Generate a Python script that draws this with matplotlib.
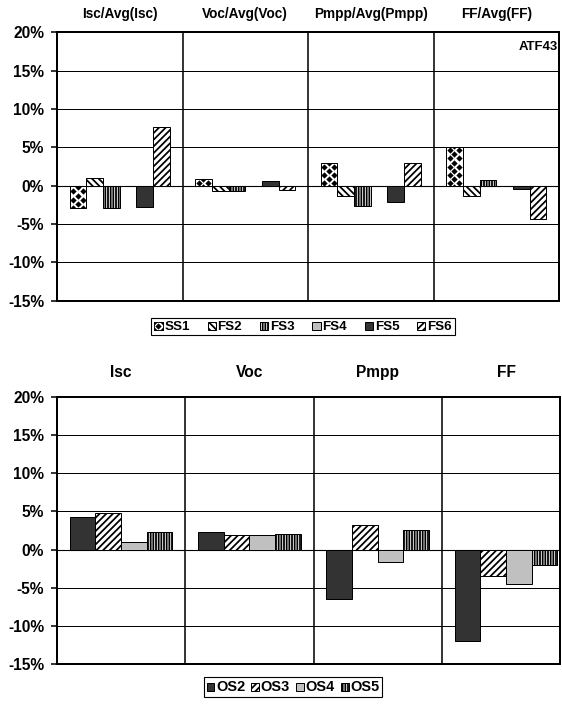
import numpy as np
import matplotlib
matplotlib.use("Agg")
import matplotlib.pyplot as plt
from matplotlib.patches import Rectangle
from matplotlib.lines import Line2D
from matplotlib.legend_handler import HandlerBase
from matplotlib.transforms import blended_transform_factory

plt.rcParams['font.family'] = ['Liberation Sans', 'DejaVu Sans']
plt.rcParams['font.weight'] = 'bold'
plt.rcParams['hatch.linewidth'] = 1.6

# ---- data (percent deviation) ----
top_categories = ['Isc/Avg(Isc)', 'Voc/Avg(Voc)', 'Pmpp/Avg(Pmpp)', 'FF/Avg(FF)']
top_series = ['SS1', 'FS2', 'FS3', 'FS4', 'FS5', 'FS6']
ss1 = [-2.95, 0.9, 3.0, 5.1]
fs2 = [1.0, -0.7, -1.35, -1.35]
fs3 = [-2.9, -0.7, -2.65, 0.75]
fs4 = [0.0, 0.0, 0.0, 0.0]
fs5 = [-2.8, 0.65, -2.15, -0.4]
fs6 = [7.65, -0.55, 2.9, -4.4]

bottom_categories = ['Isc', 'Voc', 'Pmpp', 'FF']
bottom_series = ['OS2', 'OS3', 'OS4', 'OS5']
os2 = [4.25, 2.25, -6.4, -12.0]
os3 = [4.75, 1.85, 3.2, -3.4]
os4 = [1.05, 1.95, -1.65, -4.5]
os5 = [2.25, 2.1, 2.5, -2.0]

y_ticks = [-15, -10, -5, 0, 5, 10, 15, 20]

# ---- styles ----
DARK = '#333333'
LIGHT = '#c0c0c0'
top_styles = {
    'SS1': dict(facecolor='white', hatch=None),
    'FS2': dict(facecolor='white', hatch='\\\\\\\\'),
    'FS3': dict(facecolor='white', hatch='|||||'),
    'FS4': dict(facecolor=LIGHT, hatch=None),
    'FS5': dict(facecolor=DARK, hatch=None),
    'FS6': dict(facecolor='white', hatch='////'),
}
bottom_styles = {
    'OS2': dict(facecolor=DARK, hatch=None),
    'OS3': dict(facecolor='white', hatch='////'),
    'OS4': dict(facecolor=LIGHT, hatch=None),
    'OS5': dict(facecolor='white', hatch='|||||'),
}

DPI = 80
fig = plt.figure(figsize=(562 / DPI, 708 / DPI), dpi=DPI)
ax_top = fig.add_axes([57 / 562, 1 - 300.7 / 708, 502 / 562, 268.4 / 708])
ax_bot = fig.add_axes([57 / 562, 1 - 664.3 / 708, 503 / 562, 267.6 / 708])


def style_axes(ax, xmax):
    ax.set_xlim(-0.5, xmax)
    ax.set_ylim(-15, 20)
    ax.set_yticks(y_ticks)
    ax.set_yticklabels([f'{t}%' for t in y_ticks])
    ax.set_xticks([])
    ax.tick_params(axis='y', direction='out', length=5.5, width=1.4, pad=6,
                   labelsize=14, colors='black')
    for t in ax.get_yticklabels():
        t.set_fontweight('bold')
    for s in ax.spines.values():
        s.set_linewidth(1.8)
        s.set_color('black')
    for y in y_ticks[1:-1]:
        ax.axhline(y, color='black', lw=0.9 if y else 1.0, zorder=1)
    for xv in (0.5, 1.5, 2.5):
        ax.axvline(xv, color='black', lw=1.4, zorder=4)


def diamond_fill(ax, patch, step_y=1.08):
    """Dot a bar with a quincunx lattice of black diamonds, clipped to the bar."""
    x0 = patch.get_x()
    w = patch.get_width()
    h = patch.get_height()
    lo, hi = min(0, h), max(0, h)
    xs, ys = [], []
    k = np.arange(-20, 21)
    for yy in 0.32 + k * step_y:
        if lo - 1 < yy < hi + 1:
            xs += [x0 + 0.22 * w, x0 + 0.78 * w]
            ys += [yy, yy]
    for yy in 0.86 + k * step_y:
        if lo - 1 < yy < hi + 1:
            xs.append(x0 + 0.5 * w)
            ys.append(yy)
    ln, = ax.plot(xs, ys, ls='none', marker='D', ms=4.0, mew=0, color='black',
                  zorder=3)
    ln.set_clip_path(patch)


# ---- top chart ----
style_axes(ax_top, 3.5)
x = np.arange(len(top_categories))
n = len(top_series)
bw = 0.8 / n
top_values = [ss1, fs2, fs3, fs4, fs5, fs6]
top_handles = []
for i, (name, vals) in enumerate(zip(top_series, top_values)):
    st = top_styles[name]
    bars = ax_top.bar(x + (i - (n - 1) / 2) * bw, vals, bw, facecolor=st['facecolor'],
                      hatch=st['hatch'], edgecolor='black', linewidth=0.9, zorder=2,
                      label=name)
    if name == 'SS1':
        for p in bars.patches:
            diamond_fill(ax_top, p)
    top_handles.append(bars)

trans_top = blended_transform_factory(ax_top.transData, ax_top.transAxes)
for xi, lab in zip(x, top_categories):
    ax_top.text(xi, 1.068, lab, transform=trans_top, ha='center', va='center',
                fontsize=12.3, fontweight='bold')
ax_top.text(0.997, 0.946, 'ATF43', transform=ax_top.transAxes, ha='right', va='center',
            fontsize=11.8, fontweight='bold')

# ---- bottom chart ----
style_axes(ax_bot, 3.42)
m = len(bottom_series)
bw2 = 0.8 / m
bottom_values = [os2, os3, os4, os5]
bot_handles = []
for i, (name, vals) in enumerate(zip(bottom_series, bottom_values)):
    st = bottom_styles[name]
    bars = ax_bot.bar(x + (i - (m - 1) / 2) * bw2, vals, bw2, facecolor=st['facecolor'],
                      hatch=st['hatch'], edgecolor='black', linewidth=0.9, zorder=2,
                      label=name)
    bot_handles.append(bars)

trans_bot = blended_transform_factory(ax_bot.transData, ax_bot.transAxes)
for xi, lab in zip(x, bottom_categories):
    ax_bot.text(xi, 1.089, lab, transform=trans_bot, ha='center', va='center',
                fontsize=14, fontweight='bold')


# ---- legends ----
class DiamondHandler(HandlerBase):
    def create_artists(self, legend, orig_handle, xdescent, ydescent, width, height,
                       fontsize, trans):
        rect = Rectangle((-xdescent, -ydescent), width, height, facecolor='white',
                         edgecolor='black', lw=0.8, transform=trans)
        x0, y0 = -xdescent, -ydescent
        xs = [x0, x0 + width, x0 + width / 2, x0, x0 + width]
        ys = [y0 + height, y0 + height, y0 + height / 2, y0, y0]
        dots = Line2D(xs, ys, ls='none', marker='D', ms=4.0, mew=0, color='black',
                      transform=trans)
        dots.set_clip_path(rect)
        return [rect, dots]


leg_kw = dict(loc='center', frameon=True, fancybox=False, edgecolor='black',
              framealpha=1, borderpad=0.25, handletextpad=0.15, borderaxespad=0,
              prop={'weight': 'bold'})
leg1 = fig.legend(top_handles, top_series, bbox_to_anchor=(303 / 562, 1 - 326.5 / 708),
                  ncol=6, handlelength=0.75, handleheight=0.75,
                  columnspacing=1.6, handler_map={top_handles[0]: DiamondHandler()},
                  **leg_kw)
leg1.get_frame().set_linewidth(1.0)
for t in leg1.get_texts():
    t.set_fontsize(12)

leg2 = fig.legend(bot_handles, bottom_series, bbox_to_anchor=(293 / 562, 1 - 687 / 708),
                  ncol=4, handlelength=0.7, handleheight=0.7,
                  columnspacing=0.55, **leg_kw)
leg2.get_frame().set_linewidth(1.0)
for t in leg2.get_texts():
    t.set_fontsize(13)

fig.savefig('out.png', dpi=DPI, facecolor='white')
